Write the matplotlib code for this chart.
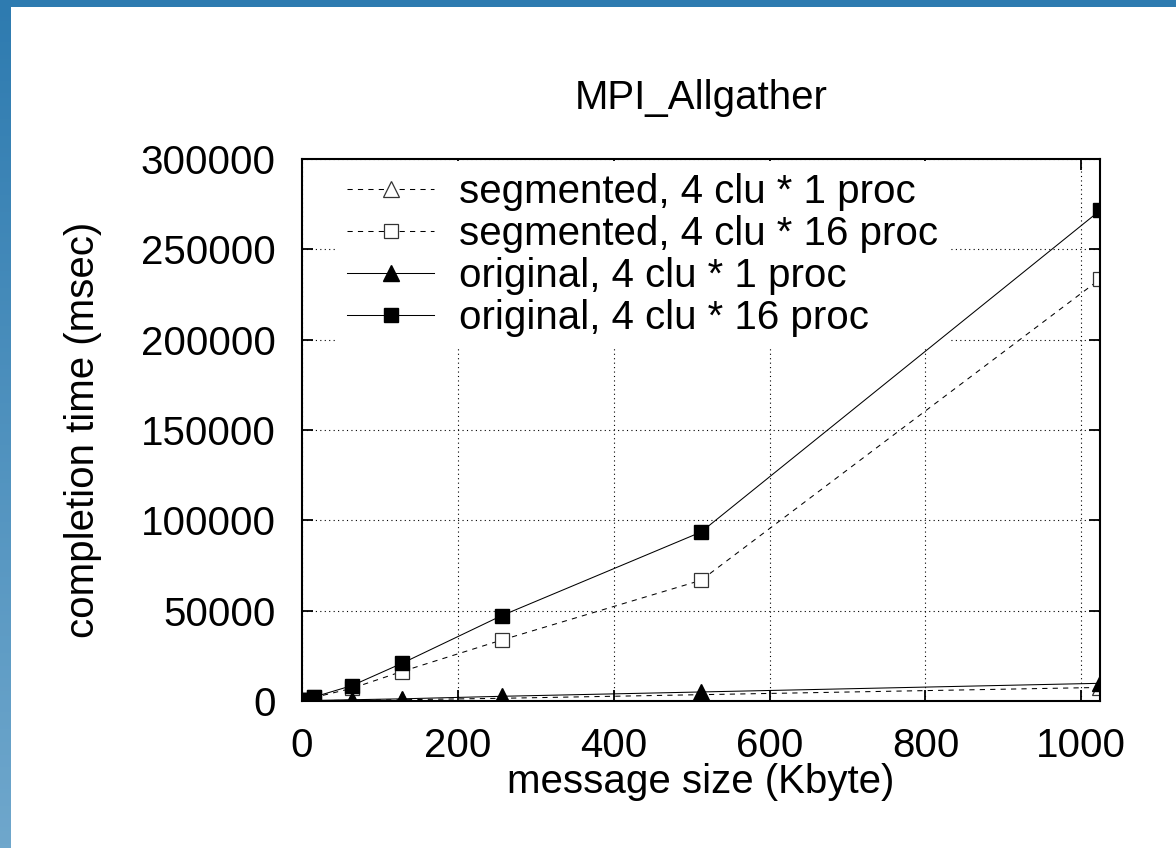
import numpy as np
import matplotlib
matplotlib.use("Agg")
import matplotlib.pyplot as plt
from matplotlib.colors import LinearSegmentedColormap

# message size in Kbyte, completion time in msec
sizes = [1, 4, 16, 64, 128, 256, 512, 1024]
seg_1proc = [50, 100, 200, 400, 700, 1500, 3500, 7500]
seg_16proc = [300, 600, 2000, 7000, 16300, 33700, 66800, 233500]
orig_1proc = [80, 150, 300, 700, 1200, 2600, 5000, 9800]
orig_16proc = [300, 700, 2300, 8500, 20800, 47200, 93500, 271500]

labels = ["segmented, 4 clu * 1 proc", "segmented, 4 clu * 16 proc",
          "original, 4 clu * 1 proc", "original, 4 clu * 16 proc"]
xticks = [0, 200, 400, 600, 800, 1000]
yticks = [0, 50000, 100000, 150000, 200000, 250000, 300000]

plt.rcParams['font.family'] = ['Liberation Sans', 'DejaVu Sans']
fs = 29

W, H = 1176, 848
fig = plt.figure(figsize=(W/100, H/100), dpi=100)
fig.patch.set_facecolor('white')

# blue frame strips (top + left) like the slide background
cmap = LinearSegmentedColormap.from_list("slide", ["#2e7bb0", "#6fa7cc"])
lax = fig.add_axes([0, 0, 11/W, 1])
lax.imshow(np.linspace(0, 1, 200).reshape(-1, 1), aspect='auto', cmap=cmap)
lax.axis('off')
tax = fig.add_axes([0, 1-7/H, 1, 7/H])
tax.imshow(np.zeros((1, 10)), aspect='auto', cmap=cmap, vmin=0, vmax=1)
tax.axis('off')

ax = fig.add_axes([302/W, 1-701/H, (1100-302)/W, (701-159)/H])

ax.plot(sizes, seg_1proc, linestyle=(0, (5, 5)), color='black', lw=0.75,
        marker='^', ms=11, mfc='white', mec='#333333', mew=0.9, label=labels[0], zorder=3)
ax.plot(sizes, seg_16proc, linestyle=(0, (5, 5)), color='black', lw=0.75,
        marker='s', ms=10, mfc='white', mec='#333333', mew=0.9, label=labels[1], zorder=3)
ax.plot(sizes, orig_1proc, linestyle='-', color='black', lw=0.75,
        marker='^', ms=11, mfc='black', mec='black', label=labels[2], zorder=4)
ax.plot(sizes, orig_16proc, linestyle='-', color='black', lw=0.75,
        marker='s', ms=10, mfc='black', mec='black', label=labels[3], zorder=4)

ax.set_xlim(0, 1024)
ax.set_ylim(0, 300000)
ax.set_xticks(xticks)
ax.set_yticks(yticks)
ax.tick_params(direction='in', length=8, width=1.3, top=True, right=True,
               labelsize=fs, colors='black')
ax.tick_params(axis='x', pad=19)
ax.tick_params(axis='y', pad=19)
for s in ax.spines.values():
    s.set_linewidth(1.5)
    s.set_zorder(6)
ax.set_axisbelow(True)
ax.grid(True, color='black', linestyle=(0, (1, 3)), lw=0.8)

leg = ax.legend(loc='upper left', bbox_to_anchor=(33/798, 1-2/542),
                borderaxespad=0, borderpad=0.3, fontsize=fs, frameon=True,
                fancybox=False, facecolor='white', edgecolor='none',
                framealpha=1, handlelength=2.17, handletextpad=0.6,
                labelspacing=0.1)
leg.set_zorder(1.5)

fig.text(701/W, 1-109/H, "MPI_Allgather", fontsize=fs, ha='center', va='baseline')
fig.text(83/W, 1-430/H, "completion time (msec)", fontsize=fs, rotation=90,
         ha='center', va='center')
fig.text(701/W, 1-782/H, "message size (Kbyte)", fontsize=fs, ha='center', va='center')

fig.savefig("out.png", dpi=100, facecolor='white')
